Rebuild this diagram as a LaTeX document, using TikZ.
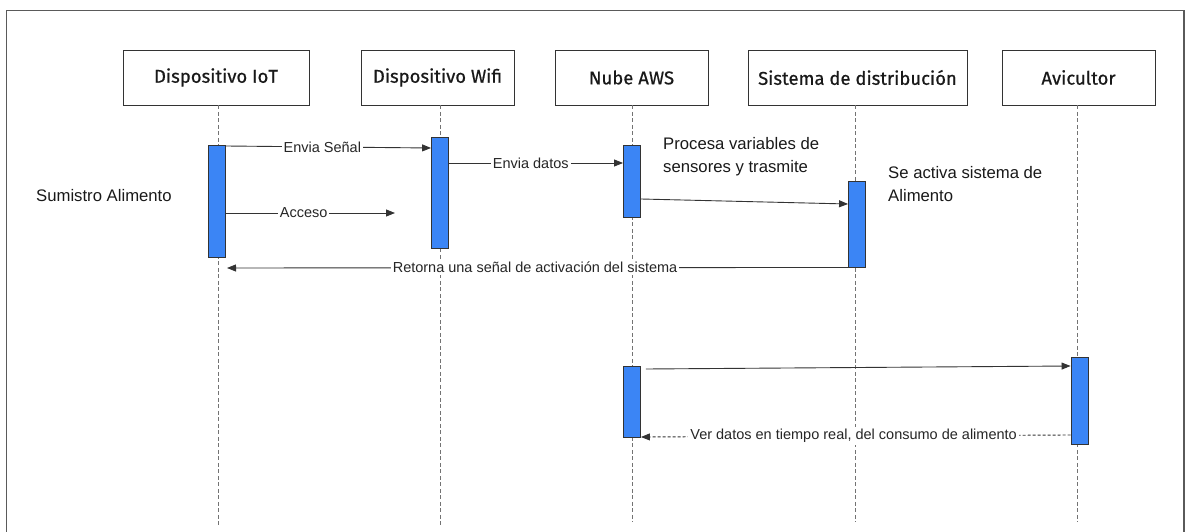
\documentclass[tikz,border=0pt]{standalone}
\usepackage{fontspec}
\setmainfont{Liberation Sans}
\newfontfamily\headfont[FakeBold=0.6]{Fira Sans}
\usetikzlibrary{arrows.meta,calc}
\definecolor{actblue}{RGB}{59,133,245}
\definecolor{edge}{RGB}{51,51,51}
\definecolor{frameg}{RGB}{90,90,90}
\tikzset{
  head/.style={draw=edge, line width=0.9pt, fill=white, inner sep=0pt,
    font=\headfont\fontsize{18.5}{22}\selectfont, text=black!90},
  act/.style={draw=edge, line width=0.9pt, fill=actblue, inner sep=0pt, minimum width=17pt},
  life/.style={draw=gray!90!black, line width=0.9pt, dash pattern=on 4pt off 2.5pt},
  msg/.style={draw=edge, line width=0.9pt, -{Triangle[length=9pt,width=7pt]}},
  rmsg/.style={msg, dash pattern=on 3pt off 2pt},
  lbl/.style={fill=white, inner sep=2pt, font=\fontsize{14.5}{17}\selectfont, text=black!85},
  note/.style={inner sep=0pt, align=left, font=\fontsize{16.7}{23}\selectfont, text=black!90}
}
\begin{document}
\begin{tikzpicture}[x=1pt,y=-1pt]
\useasboundingbox (0,0) rectangle (1187,532);
\draw[frameg, line width=1.1pt] (6.5,545) -- (6.5,10.5) -- (1184,10.5) -- (1184,545);

% heads
\node[head, minimum width=186pt, minimum height=55pt] (h1) at (216,77.5) {Dispositivo IoT};
\node[head, minimum width=153pt, minimum height=55pt] (h2) at (437.5,77.5) {Dispositivo Wifi};
\node[head, minimum width=153pt, minimum height=55pt] (h3) at (631.5,77.5) {Nube AWS};
\node[head, minimum width=219pt, minimum height=55pt] (h4) at (857.5,77.5) {Sistema de distribución};
\node[head, minimum width=153pt, minimum height=55pt] (h5) at (1078.5,77.5) {Avicultor};

% lifeline ends
\coordinate (e1) at (218,525);
\coordinate (e2) at (440,525);
\coordinate (e3) at (632,522);
\coordinate (e4) at (855,522);
\coordinate (e5) at (1077,522);
\draw[life] (h1.south -| e1) -- (e1);
\draw[life] (h2.south -| e2) -- (e2);
\draw[life] (h3.south -| e3) -- (e3);
\draw[life] (h4.south -| e4) -- (e4);
\draw[life] (h5.south -| e5) -- (e5);

% activations
\node[act, minimum height=112pt] (a1) at (217,201) {};
\node[act, minimum height=111pt] (a2) at (440,192.5) {};
\node[act, minimum height=72pt] (a3) at (632,181) {};
\node[act, minimum height=86pt] (a4) at (857,224) {};
\node[act, minimum height=71pt] (a5) at (632,401.5) {};
\node[act, minimum height=87pt] (a6) at (1079.5,400.5) {};

% messages
\draw[msg] (a1.east |- 0,146) -- node[lbl, pos=0.47] {Envia Señal} (a2.west |- 0,148);
\coordinate (acc) at (395,213);
\draw[msg] (a1.east |- acc) -- node[lbl, pos=0.46] {Acceso} (acc);
\draw[msg] (a2.east |- 0,163) -- node[lbl, pos=0.47] {Envia datos} (a3.west |- 0,163);
\draw[msg] (a3.east |- 0,199) -- (a4.west |- 0,204);
\coordinate (ret) at (227,268);
\draw[msg] (a4.south west) -- node[lbl, pos=0.504] {Retorna una señal de activación del sistema} (ret);
\draw[msg] ($(a5.east |- 0,369)+(5,0)$) -- (a6.west |- 0,366);
\draw[rmsg] (a6.west |- 0,435) -- node[lbl, pos=0.505] {Ver datos en tiempo real, del consumo de alimento} (a5.east |- 0,437);

% notes
\node[note, anchor=west] (n1) at (36,196) {Sumistro Alimento};
\node[note, anchor=north west] (n2) at (663,137) {Procesa variables de\\sensores y trasmite};
\node[note, anchor=north west] (n3) at (888,166) {Se activa sistema de\\Alimento};
\end{tikzpicture}
\end{document}
